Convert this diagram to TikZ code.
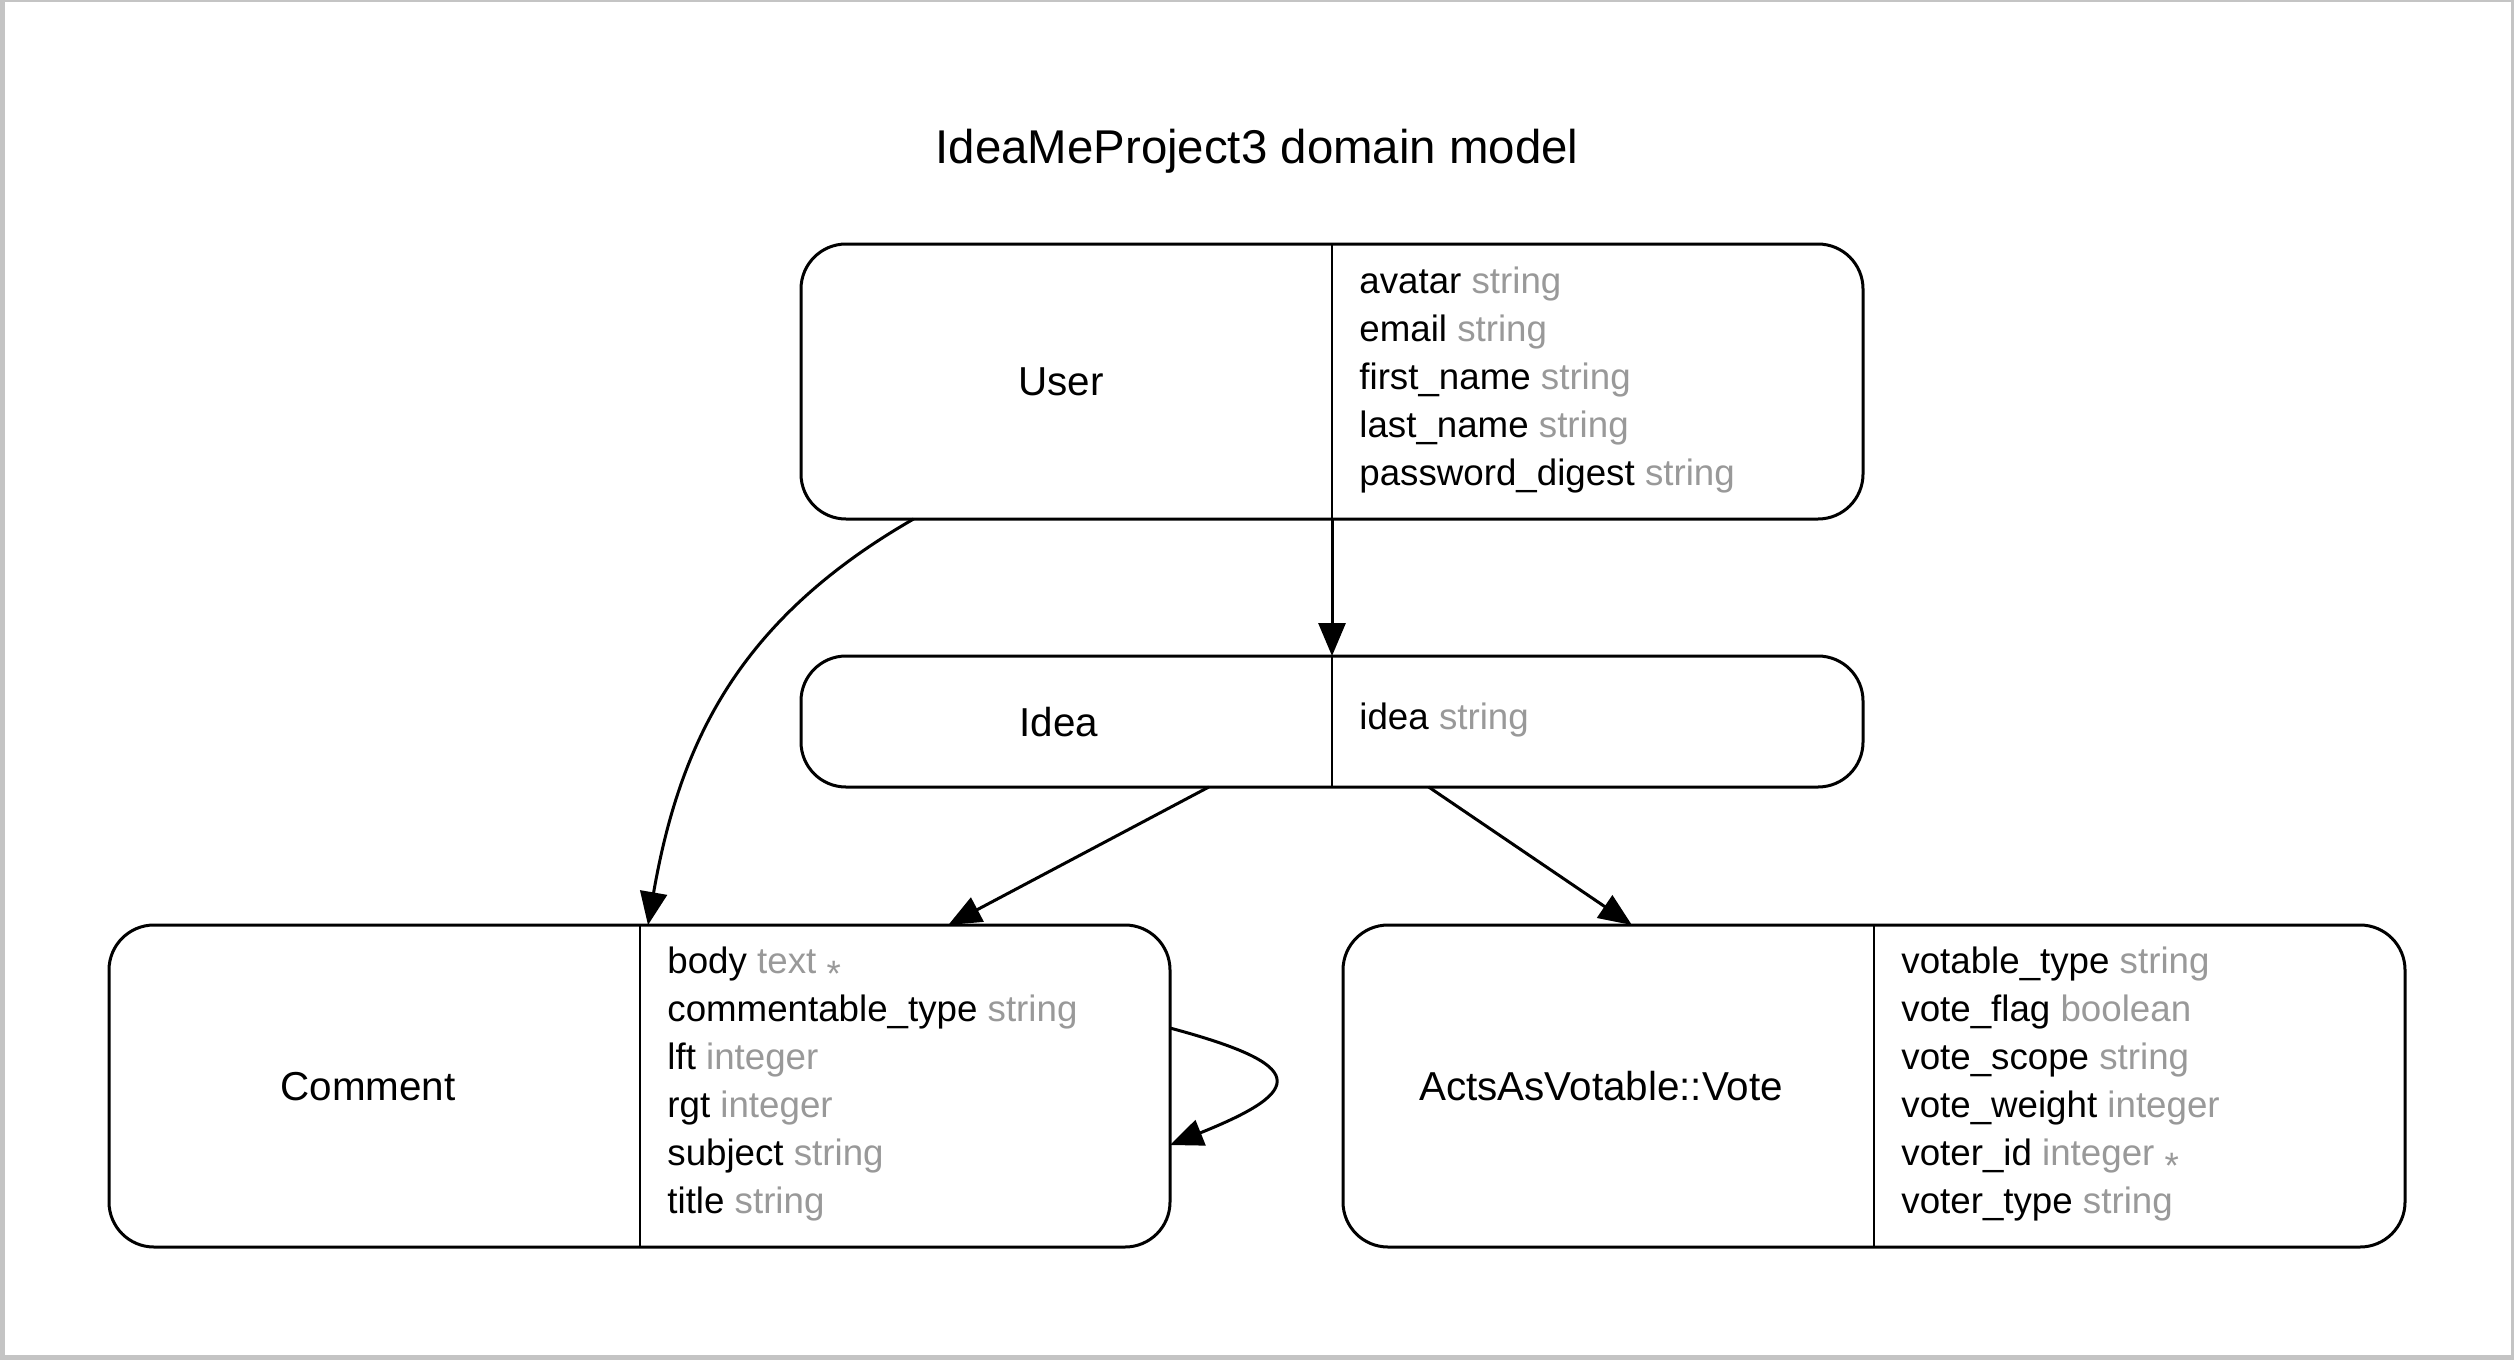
\documentclass[tikz,border=0pt]{standalone}
\usepackage{fontspec}
\setmainfont{Liberation Sans}
\usetikzlibrary{arrows.meta,calc}
\definecolor{typegray}{HTML}{999999}
\definecolor{framegray}{HTML}{C4C4C4}
\newcommand{\ty}[1]{\textcolor{typegray}{#1}}
\newcommand{\reqmark}{\textcolor{typegray}{\raisebox{-0.36em}{*}}}
\begin{document}
\begin{tikzpicture}[x=0.5pt,y=-0.5pt,
  entity/.style={draw, line width=1.5pt, rounded corners=22.5pt, inner sep=0pt, outer sep=0pt},
  divider/.style={line width=1pt},
  rel/.style={line width=1.5pt, -{Triangle[length=16.5pt,width=13.5pt]}},
  attr/.style={anchor=base west, inner sep=0pt, font=\fontsize{18.35pt}{24pt}\selectfont},
  ename/.style={anchor=base, inner sep=0pt, font=\fontsize{20.2pt}{24pt}\selectfont},
  titletext/.style={anchor=base, inner sep=0pt, font=\fontsize{23.7pt}{28pt}\selectfont}]
\useasboundingbox (0,0) rectangle (2514,1360);
\fill[framegray] (0,0) rectangle (2514,1360);
\fill[white] (5,2) rectangle (2511,1355);

\node[titletext] (title) at (1257,163) {IdeaMeProject3 domain model};

% entities
\node[entity, minimum width=531pt, minimum height=137.5pt] (user) at (1332,381.5) {};
\node[entity, minimum width=531pt, minimum height=65.5pt] (idea) at (1332,721.5) {};
\node[entity, minimum width=530.5pt, minimum height=161pt] (comment) at (639.5,1086) {};
\node[entity, minimum width=531pt, minimum height=161pt] (vote) at (1874,1086) {};

\draw[divider] (user.north) -- (user.south);
\draw[divider] (idea.north) -- (idea.south);
\draw[divider] (comment.north) -- (comment.south);
\draw[divider] (vote.north) -- (vote.south);

% names
\node[ename] (username) at (1061,395) {User};
\node[ename] (ideaname) at (1059,736) {Idea};
\node[ename] (commentname) at (368,1100) {Comment};
\node[ename] (votename) at (1601,1100) {ActsAsVotable::Vote};

% User attributes
\node[attr] (ua1) at (1359,293) {avatar \ty{string}};
\node[attr] (ua2) at (1359,341) {email \ty{string}};
\node[attr] (ua3) at (1359,389) {first\_name \ty{string}};
\node[attr] (ua4) at (1359,437) {last\_name \ty{string}};
\node[attr] (ua5) at (1359,485) {password\_digest \ty{string}};

% Idea attributes
\node[attr] (ia1) at (1359,729) {idea \ty{string}};

% Comment attributes
\node[attr] (ca1) at (667,973) {body \ty{text} \reqmark};
\node[attr] (ca2) at (667,1021) {commentable\_type \ty{string}};
\node[attr] (ca3) at (667,1069) {lft \ty{integer}};
\node[attr] (ca4) at (667,1117) {rgt \ty{integer}};
\node[attr] (ca5) at (667,1165) {subject \ty{string}};
\node[attr] (ca6) at (667,1213) {title \ty{string}};

% Vote attributes
\node[attr] (va1) at (1901,973) {votable\_type \ty{string}};
\node[attr] (va2) at (1901,1021) {vote\_flag \ty{boolean}};
\node[attr] (va3) at (1901,1069) {vote\_scope \ty{string}};
\node[attr] (va4) at (1901,1117) {vote\_weight \ty{integer}};
\node[attr] (va5) at (1901,1165) {voter\_id \ty{integer} \reqmark};
\node[attr] (va6) at (1901,1213) {voter\_type \ty{string}};

% relations
\draw[rel] (user.south) -- (idea.north);
\draw[rel] ($(user.south west)!0.106!(user.south east)$)
  .. controls +(-87pt,-50pt) and +(16pt,92pt) .. ($(comment.north west)!0.508!(comment.north east)$);
\draw[rel] ($(idea.south west)!0.384!(idea.south east)$) -- ($(comment.north west)!0.791!(comment.north east)$);
\draw[rel] ($(idea.south west)!0.591!(idea.south east)$) -- ($(vote.north west)!0.272!(vote.north east)$);
\draw[rel] ([yshift=29pt]comment.east) .. controls +(69pt,-18.5pt) and +(68.5pt,27.5pt) .. ([yshift=-29.5pt]comment.east);
\end{tikzpicture}
\end{document}
